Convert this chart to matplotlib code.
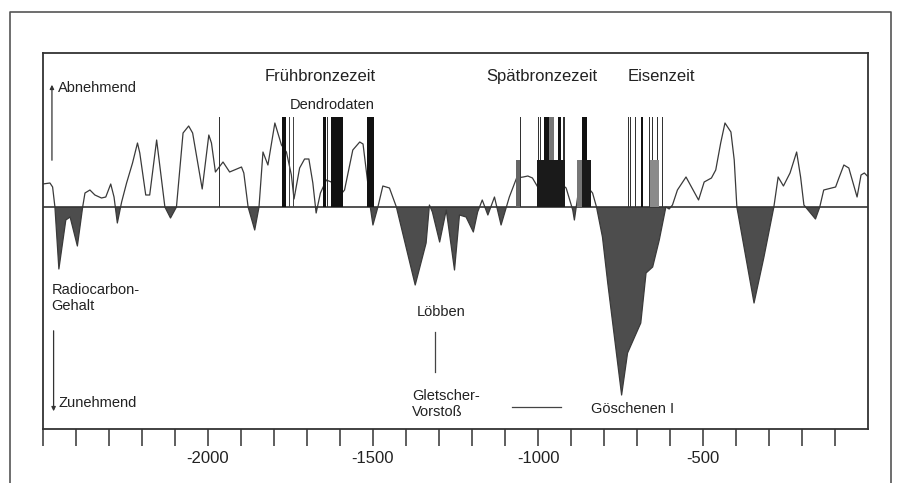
import matplotlib.pyplot as plt
import numpy as np
from matplotlib.lines import Line2D

plt.rcParams['font.family'] = ['Liberation Sans', 'DejaVu Sans']

# Radiocarbon-Kurve: Jahr (v. Chr. negativ) und relative Abweichung (positiv = abnehmend)
years = [-2500, -2478, -2470, -2463, -2451, -2430, -2417, -2395, -2379, -2372,
         -2357, -2342, -2322, -2309, -2294, -2284, -2274, -2261, -2246, -2228,
         -2213, -2206, -2188, -2176, -2155, -2130, -2113, -2095, -2075, -2058,
         -2046, -2017, -1997, -1989, -1977, -1954, -1934, -1898, -1891, -1878,
         -1858, -1845, -1833, -1818, -1797, -1777, -1762, -1747, -1739, -1722,
         -1707, -1694, -1682, -1672, -1659, -1641, -1626, -1611, -1586, -1561,
         -1540, -1530, -1516, -1508, -1500, -1485, -1470, -1450, -1429, -1372,
         -1339, -1329, -1320, -1298, -1278, -1253, -1238, -1218, -1196, -1183,
         -1169, -1152, -1132, -1112, -1087, -1065, -1045, -1031, -1017, -1001,
         -985, -955, -915, -895, -890, -875, -850, -835, -823, -805,
         -789, -774, -759, -747, -729, -689, -673, -653, -633, -613,
         -603, -593, -578, -552, -532, -514, -497, -475, -462, -447,
         -434, -416, -406, -398, -346, -316, -286, -273, -257, -237,
         -217, -205, -195, -160, -147, -135, -99, -89, -74, -59,
         -34, -22, -12, 0]
c14 = [23, 24, 20, 0, -62, -13, -10, -39, 0, 14,
       17, 12, 9, 10, 23, 10, -16, 5, 24, 44,
       64, 54, 12, 12, 67, 0, -11, 0, 74, 81,
       74, 18, 72, 64, 35, 45, 35, 40, 34, 0,
       -23, 0, 55, 42, 84, 62, 55, 32, 8, 39,
       48, 48, 24, -6, 14, 27, 25, 7, 17, 57,
       65, 63, 25, 0, -18, 0, 21, 19, 0, -78,
       -36, 2, -5, -35, -3, -63, -8, -10, -25, -5,
       7, -8, 10, -18, 10, 29, 30, 31, 29, 20,
       32, 30, 19, -3, -13, 22, 20, 14, 0, -30,
       -76, -116, -156, -188, -146, -116, -66, -60, -33, 0,
       -2, 2, 17, 30, 18, 7, 25, 29, 37, 64,
       84, 75, 47, 0, -96, -50, 0, 30, 21, 34,
       55, 30, 2, -12, 0, 17, 20, 29, 42, 39,
       10, 32, 34, 30]

# Dendrodaten: Jahr, Breite in Jahren, Höhe, Grauton
dendro_years = [-1965, -1769, -1753, -1740, -1647, -1637, -1608, -1507,
                -1059, -1052, -999, -994, -974, -958, -936, -921, -961,
                -874, -858, -853,
                -727, -719, -706, -685, -662, -652, -637, -624, -647]
dendro_width = [3, 10, 3, 3, 8, 3, 37, 20,
                15, 3, 3, 3, 13, 15, 10, 8, 83,
                14, 15, 26,
                3, 3, 3, 8, 3, 3, 3, 3, 29]
dendro_height = [90, 90, 90, 90, 90, 90, 90, 90,
                 47, 90, 90, 90, 90, 90, 90, 90, 47,
                 47, 90, 47,
                 90, 90, 90, 90, 90, 90, 90, 90, 47]
dendro_color = ['#333333', '#111111', '#444444', '#444444', '#111111', '#333333', '#111111', '#111111',
                '#666666', '#333333', '#333333', '#333333', '#111111', '#777777', '#111111', '#333333', '#1a1a1a',
                '#777777', '#111111', '#1a1a1a',
                '#333333', '#333333', '#333333', '#111111', '#333333', '#333333', '#333333', '#333333', '#8a8a8a']

tick_years = list(range(-2500, 0, 100))
label_years = [-2000, -1500, -1000, -500]

fig = plt.figure(figsize=(8.98, 4.83), dpi=100)
ax = fig.add_axes([42.7 / 898, 1 - 429 / 483, (868.3 - 42.7) / 898, (429 - 53) / 483])

yr = np.array(years)
val = np.array(c14)
ax.fill_between(yr, val, 0, where=val < 0, interpolate=True, color='#4d4d4d', lw=0)
ax.plot(yr, val, color='#3a3a3a', lw=0.9)
ax.axhline(0, color='#333333', lw=1.2)
ax.bar(dendro_years, dendro_height, width=dendro_width, color=dendro_color, lw=0, zorder=3)

ax.set_xlim(-2500, 0)
ax.set_ylim(-222, 154)
ax.set_yticks([])
ax.set_xticks(tick_years)
ax.set_xticklabels([str(t) if t in label_years else '' for t in tick_years], fontsize=12, color='#222222')
ax.tick_params(axis='x', direction='out', length=12, width=1.1, pad=4, color='#333333')
for s in ax.spines.values():
    s.set_color('#333333')
    s.set_linewidth(1.3)

small = dict(fontsize=10.5, color='#222222')
big = dict(fontsize=12, color='#222222', ha='center', va='center')

# Beschriftung links
ax.annotate('', xy=(-2472, 125), xytext=(-2472, 44),
            arrowprops=dict(arrowstyle='-|>', color='#333333', lw=0.9, mutation_scale=6))
ax.text(-2454, 119, 'Abnehmend', va='center', ha='left', **small)
ax.text(-2473, -91, 'Radiocarbon-\nGehalt', va='center', ha='left', linespacing=1.25, **small)
ax.annotate('', xy=(-2467, -207), xytext=(-2467, -121),
            arrowprops=dict(arrowstyle='-|>', color='#333333', lw=0.9, mutation_scale=6))
ax.text(-2453, -196, 'Zunehmend', va='center', ha='left', **small)

# Perioden
ax.text(-1659, 131, 'Frühbronzezeit', **big)
ax.text(-1622, 102, 'Dendrodaten', ha='center', va='center', **small)
ax.text(-988, 131, 'Spätbronzezeit', **big)
ax.text(-627, 131, 'Eisenzeit', **big)

# Gletschervorstöße
ax.text(-1295, -105, 'Löbben', ha='center', va='center', **small)
ax.plot([-1313, -1313], [-125, -165], color='#444444', lw=0.9)
ax.text(-1382, -197, 'Gletscher-\nVorstoß', ha='left', va='center', linespacing=1.25, **small)
ax.plot([-1079, -932], [-200, -200], color='#444444', lw=0.9)
ax.text(-840, -202, 'Göschenen I', ha='left', va='center', **small)

# äußerer Rahmen (unten abgeschnitten)
fx = [10 / 898, 10 / 898, 891 / 898, 891 / 898]
fy = [0.0, 1 - 12 / 483, 1 - 12 / 483, 0.0]
fig.add_artist(Line2D(fx, fy, transform=fig.transFigure, color='#555555', lw=1.2))

fig.savefig('out.png', dpi=100)
